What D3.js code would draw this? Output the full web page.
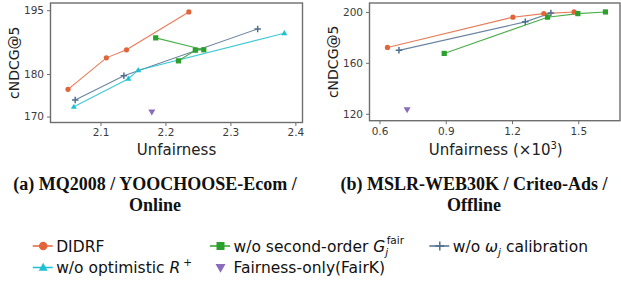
<!DOCTYPE html>
<html>
<head>
<meta charset="utf-8">
<script src="https://cdn.jsdelivr.net/npm/d3@7"></script>
<style>
  body { margin: 0; background: #fff; }
  svg { display: block; }
</style>
</head>
<body>
<script>
// ---- data ----
// (a) online: [unfairness, cNDCG@5]
const onlineDIDRF = [[2.050, 176.4], [2.109, 183.8], [2.140, 185.7], [2.236, 194.6]];
const onlineNoSecond = [[2.185, 188.5], [2.259, 185.7], [2.246, 185.6], [2.220, 183.1]];
const onlineNoCalib = [[2.061, 173.9], [2.136, 179.6], [2.342, 190.6]];
const onlineNoOptim = [[2.059, 172.3], [2.143, 178.9], [2.158, 180.9], [2.383, 189.6]];
const onlineFairK = [[2.179, 171.1]];

// (b) offline: [unfairness x1e3, cNDCG@5]
const offlineDIDRF = [[0.636, 172.1], [1.204, 195.9], [1.344, 198.7], [1.481, 200.0]];
const offlineNoSecond = [[0.893, 167.4], [1.361, 195.9], [1.498, 198.7], [1.623, 200.0]];
const offlineNoCalib = [[0.688, 169.8], [1.260, 192.2], [1.376, 199.2]];
const offlineFairK = [[0.725, 123.2]];

const leftXTicks = [2.1, 2.2, 2.3, 2.4];
const leftYTicks = [170, 180, 195];
const rightXTicks = [0.6, 0.9, 1.2, 1.5];
const rightYTicks = [120, 160, 200];

const styles = {
  didrf:  { color: "#e2643a", marker: "circle" },
  second: { color: "#2ca02c", marker: "square" },
  calib:  { color: "#4f6f8f", marker: "plus" },
  optim:  { color: "#1fc0d0", marker: "triangle" },
  fairk:  { color: "#8a6bbd", marker: "down" }
};

const svg = d3.select("body").append("svg")
  .attr("width", 621).attr("height", 286);

// marker drawing
function drawMarker(g, type, x, y, s, color) {
  if (type === "circle") {
    g.append("circle").attr("cx", x).attr("cy", y).attr("r", s / 2).attr("fill", color);
  } else if (type === "square") {
    g.append("rect").attr("x", x - s / 2).attr("y", y - s / 2)
      .attr("width", s).attr("height", s).attr("fill", color);
  } else if (type === "triangle") {
    const h = s * 0.87;
    g.append("path")
      .attr("d", `M${x},${y - h * 0.6}L${x + s / 2},${y + h * 0.4}L${x - s / 2},${y + h * 0.4}Z`)
      .attr("fill", color);
  } else if (type === "down") {
    const h = s * 0.87;
    g.append("path")
      .attr("d", `M${x},${y + h * 0.6}L${x + s / 2},${y - h * 0.4}L${x - s / 2},${y - h * 0.4}Z`)
      .attr("fill", color);
  } else if (type === "plus") {
    g.append("path")
      .attr("d", `M${x - s / 2},${y}H${x + s / 2}M${x},${y - s / 2}V${y + s / 2}`)
      .attr("stroke", color).attr("stroke-width", 1.5).attr("fill", "none");
  }
}

function panel(box, xDom, yDom, xTicks, yTicks, series, xlabel) {
  const x = d3.scaleLinear().domain(xDom).range([box.left, box.right]);
  const y = d3.scaleLinear().domain(yDom).range([box.bottom, box.top]);
  const g = svg.append("g");

  g.append("rect")
    .attr("x", box.left).attr("y", box.top)
    .attr("width", box.right - box.left).attr("height", box.bottom - box.top)
    .attr("fill", "#fff").attr("stroke", "#6e6e6e").attr("stroke-width", 1.4);

  const xa = g.append("g").attr("transform", `translate(0,${box.bottom})`)
    .call(d3.axisBottom(x).tickValues(xTicks).tickSize(3.5).tickPadding(3)
      .tickFormat(d3.format(".1f")));
  const ya = g.append("g").attr("transform", `translate(${box.left},0)`)
    .call(d3.axisLeft(y).tickValues(yTicks).tickSize(3.5).tickPadding(3));
  [xa, ya].forEach(a => {
    a.select(".domain").remove();
    a.selectAll("line").attr("stroke", "#6e6e6e");
    a.selectAll("text").attr("font-family", "DejaVu Sans").attr("font-size", 10.5)
      .attr("fill", "#3c3c3c");
  });

  const line = d3.line().x(d => x(d[0])).y(d => y(d[1]));
  series.forEach(s => {
    const st = styles[s.key];
    if (s.data.length > 1) {
      g.append("path").attr("d", line(s.data)).attr("fill", "none")
        .attr("stroke", st.color).attr("stroke-width", 1.1).attr("stroke-opacity", 0.85);
    }
  });
  series.forEach(s => {
    const st = styles[s.key];
    s.data.forEach(d => drawMarker(g, st.marker, x(d[0]), y(d[1]), s.size, st.color));
  });

  const xl = g.append("text").attr("x", (box.left + box.right) / 2 + box.xlabelShift)
    .attr("y", 155).attr("text-anchor", "middle")
    .attr("font-family", "DejaVu Sans").attr("font-size", 15).attr("fill", "#222")
    .text(xlabel.main);
  if (xlabel.sup) {
    xl.append("tspan").text(" (×10");
    xl.append("tspan").attr("font-size", 10).attr("dy", -6).text("3");
    xl.append("tspan").attr("dy", 6).text(")");
  }
  g.append("text")
    .attr("transform", `translate(${box.ylabelX},${(box.top + box.bottom) / 2}) rotate(-90)`)
    .attr("text-anchor", "middle").attr("font-family", "DejaVu Sans").attr("font-size", 14)
    .attr("fill", "#222").text("cNDCG@5");
}

panel({ left: 50.5, right: 302.5, top: 3, bottom: 122.5, ylabelX: 19, xlabelShift: 0 },
  [2.023, 2.411], [168.6, 196.7], leftXTicks, leftYTicks, [
    { key: "didrf", data: onlineDIDRF, size: 5.2 },
    { key: "calib", data: onlineNoCalib, size: 6.5 },
    { key: "optim", data: onlineNoOptim, size: 6 },
    { key: "second", data: onlineNoSecond, size: 5.2 },
    { key: "fairk", data: onlineFairK, size: 7 }
  ], { main: "Unfairness" });

panel({ left: 369.5, right: 620, top: 3, bottom: 120.7, ylabelX: 338, xlabelShift: 1 },
  [0.5547, 1.689], [114.5, 207.04], rightXTicks, rightYTicks, [
    { key: "didrf", data: offlineDIDRF, size: 5.2 },
    { key: "calib", data: offlineNoCalib, size: 6.5 },
    { key: "second", data: offlineNoSecond, size: 5.2 },
    { key: "fairk", data: offlineFairK, size: 7 }
  ], { main: "Unfairness", sup: true });

// captions
const captions = [
  { x: 155, lines: ["(a) MQ2008 / YOOCHOOSE-Ecom /", "Online"] },
  { x: 474, lines: ["(b) MSLR-WEB30K / Criteo-Ads /", "Offline"] }
];
captions.forEach(c => {
  c.lines.forEach((t, i) => {
    svg.append("text").attr("x", c.x).attr("y", 189.5 + i * 21)
      .attr("text-anchor", "middle").attr("font-family", "Liberation Serif")
      .attr("font-weight", "bold").attr("font-size", 18).attr("fill", "#111").text(t);
  });
});

// legend
const legendItems = [
  { key: "didrf", x: 32.7, row: 0, line: true, size: 8.5 },
  { key: "second", x: 210, row: 0, line: true, size: 8 },
  { key: "calib", x: 429.3, row: 0, line: true, size: 9 },
  { key: "optim", x: 32.7, row: 1, line: true, size: 9 },
  { key: "fairk", x: 210, row: 1, line: false, size: 10 }
];
const lg = svg.append("g");
legendItems.forEach(it => {
  const st = styles[it.key];
  const cy = 246 + it.row * 21.5;
  if (it.line) {
    lg.append("line").attr("x1", it.x).attr("x2", it.x + 20).attr("y1", cy).attr("y2", cy)
      .attr("stroke", st.color).attr("stroke-width", 1.5);
  }
  drawMarker(lg, st.marker, it.x + 10.5, cy, it.size, st.color);
  const t = lg.append("text").attr("x", it.x + 23.5).attr("y", cy + 5.8)
    .attr("font-family", "DejaVu Sans").attr("font-size", 15.5).attr("fill", "#111");
  if (it.key === "didrf") t.text("DIDRF");
  if (it.key === "second") {
    t.append("tspan").text("w/o second-order ");
    t.append("tspan").attr("font-style", "italic").text("G");
    t.append("tspan").attr("font-style", "italic").attr("font-size", 10.5).attr("dy", 4).text("j");
    t.append("tspan").attr("font-size", 10.5).attr("dx", -1.5).attr("dy", -12).text("fair");
  }
  if (it.key === "calib") {
    t.append("tspan").text("w/o ");
    t.append("tspan").attr("font-style", "italic").text("ω");
    t.append("tspan").attr("font-style", "italic").attr("font-size", 10.5).attr("dy", 4).text("j");
    t.append("tspan").attr("dy", -4).text(" calibration");
  }
  if (it.key === "optim") {
    t.append("tspan").text("w/o optimistic ");
    t.append("tspan").attr("font-style", "italic").text("R");
    t.append("tspan").attr("font-size", 10.5).attr("dx", 3).attr("dy", -7).text("+");
  }
  if (it.key === "fairk") t.text("Fairness-only(FairK)");
});
</script>
</body>
</html>
